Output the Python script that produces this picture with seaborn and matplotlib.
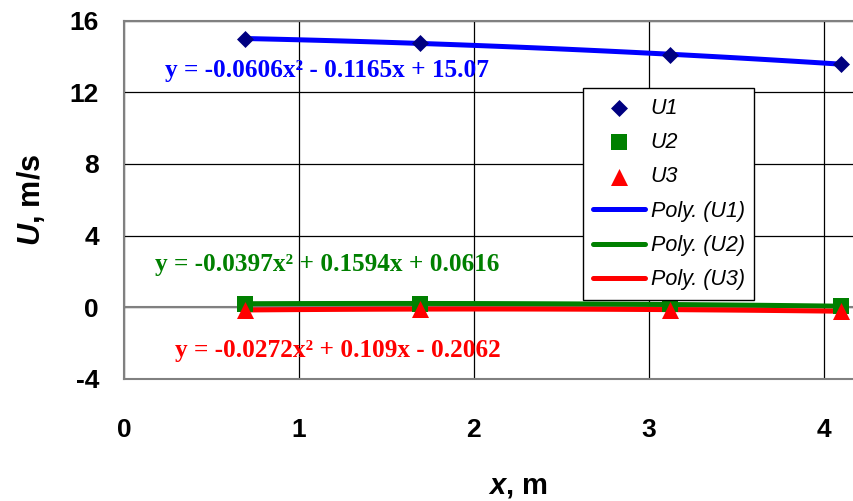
import matplotlib
matplotlib.use("Agg")
import matplotlib.pyplot as plt
from matplotlib.font_manager import FontProperties
import seaborn as sns
import numpy as np
import pandas as pd

# ---- data ----
x_pos = [0.69, 1.69, 3.12, 4.10]
u1 = [14.98, 14.76, 14.08, 13.58]
u2 = [0.20, 0.21, 0.16, 0.06]
u3 = [-0.15, -0.10, -0.13, -0.22]
series_names = ["U1", "U2", "U3"]
fit_names = ["Poly. (U1)", "Poly. (U2)", "Poly. (U3)"]
equations = ["y = -0.0606x² - 0.1165x + 15.07",
             "y = -0.0397x² + 0.1594x + 0.0616",
             "y = -0.0272x² + 0.109x - 0.2062"]
x_ticks = [0, 1, 2, 3, 4]
y_ticks = [-4, 0, 4, 8, 12, 16]

sns.set_theme(style="white")
plt.rcParams['font.family'] = ['Liberation Sans', 'DejaVu Sans']
plt.rcParams['mathtext.fontset'] = 'custom'
plt.rcParams['mathtext.it'] = 'Liberation Sans:italic:bold'
plt.rcParams['mathtext.rm'] = 'Liberation Sans:bold'
plt.rcParams['axes.unicode_minus'] = False
plt.rcParams['text.color'] = 'black'
plt.rcParams['axes.labelcolor'] = 'black'
plt.rcParams['xtick.color'] = 'black'
plt.rcParams['ytick.color'] = 'black'

fig = plt.figure(figsize=(8.54, 5.01), dpi=100)
ax = fig.add_axes([124/854, 1-379/501, 4.5*174.9/854, (379-20.5)/501])

df = pd.DataFrame({"x": x_pos, "U1": u1, "U2": u2, "U3": u3})

marker_styles = [("D", "#000080", 75), ("s", "#008000", 120), ("^", "#FF0000", 150)]
line_colors = ["#0000FF", "#008000", "#FF0000"]

fit_lines = []
for name, fname, lc in zip(series_names, fit_names, line_colors):
    sns.regplot(data=df, x="x", y=name, order=2, ci=None, scatter=False, ax=ax,
                line_kws=dict(color=lc, lw=3.6, zorder=3))
    ln = ax.lines[-1]
    ln.set_label(fname)
    fit_lines.append(ln)

marker_handles = []
for name, (mk, mc, s) in zip(series_names, marker_styles):
    sns.scatterplot(data=df, x="x", y=name, marker=mk, color=mc, s=s,
                    edgecolor=mc, linewidth=0, ax=ax, zorder=4)
    marker_handles.append(ax.collections[-1])

ax.axhline(0, color="#808080", lw=1.5, zorder=1)

ax.set_xlim(0, 4.5)
ax.set_ylim(-4, 16)
ax.set_xticks(x_ticks)
ax.set_yticks(y_ticks)
ax.set_yticks([0], minor=True)
ax.tick_params(axis="y", which="minor", length=5, width=2, color="black",
               direction="out", left=True, labelleft=False)
ax.grid(True, which="major", color="black", lw=0.9)
ax.set_axisbelow(True)
for sp in ax.spines.values():
    sp.set_color("#808080")
    sp.set_linewidth(1.5)
ax.tick_params(axis="x", which="major", length=0, pad=28, labelsize=19)
ax.tick_params(axis="y", which="major", length=0, pad=18, labelsize=19)
for lab in ax.get_xticklabels() + ax.get_yticklabels():
    lab.set_fontweight("bold")

ax.set_xlabel(r"$\mathit{x}$, m", fontsize=21, fontweight="bold", labelpad=22)
ax.set_ylabel(r"$\mathit{U}$, m/s", fontsize=22, fontweight="bold", labelpad=16)

eq_colors = ["#0000FF", "#008000", "#FF0000"]
eq_pos = [(165, 71), (155, 265), (175, 350)]
eq_font = FontProperties(family="Liberation Serif", weight="bold", size=18.2)
for eq, c, (px, py) in zip(equations, eq_colors, eq_pos):
    fig.text(px/854, 1-py/501, eq, color=c, fontproperties=eq_font,
             ha="left", va="center")

leg = ax.legend(marker_handles + fit_lines, series_names + fit_names,
                loc="upper left", bbox_to_anchor=(583/854, 1-88/501),
                bbox_transform=fig.transFigure, fancybox=False, framealpha=1,
                edgecolor="black", labelspacing=0.62, handletextpad=0.25,
                handlelength=2.45, borderpad=0.45, borderaxespad=0,
                prop=dict(style="italic", size=15.5))
leg.get_frame().set_linewidth(1.0)

fig.savefig("out.png", dpi=100)
